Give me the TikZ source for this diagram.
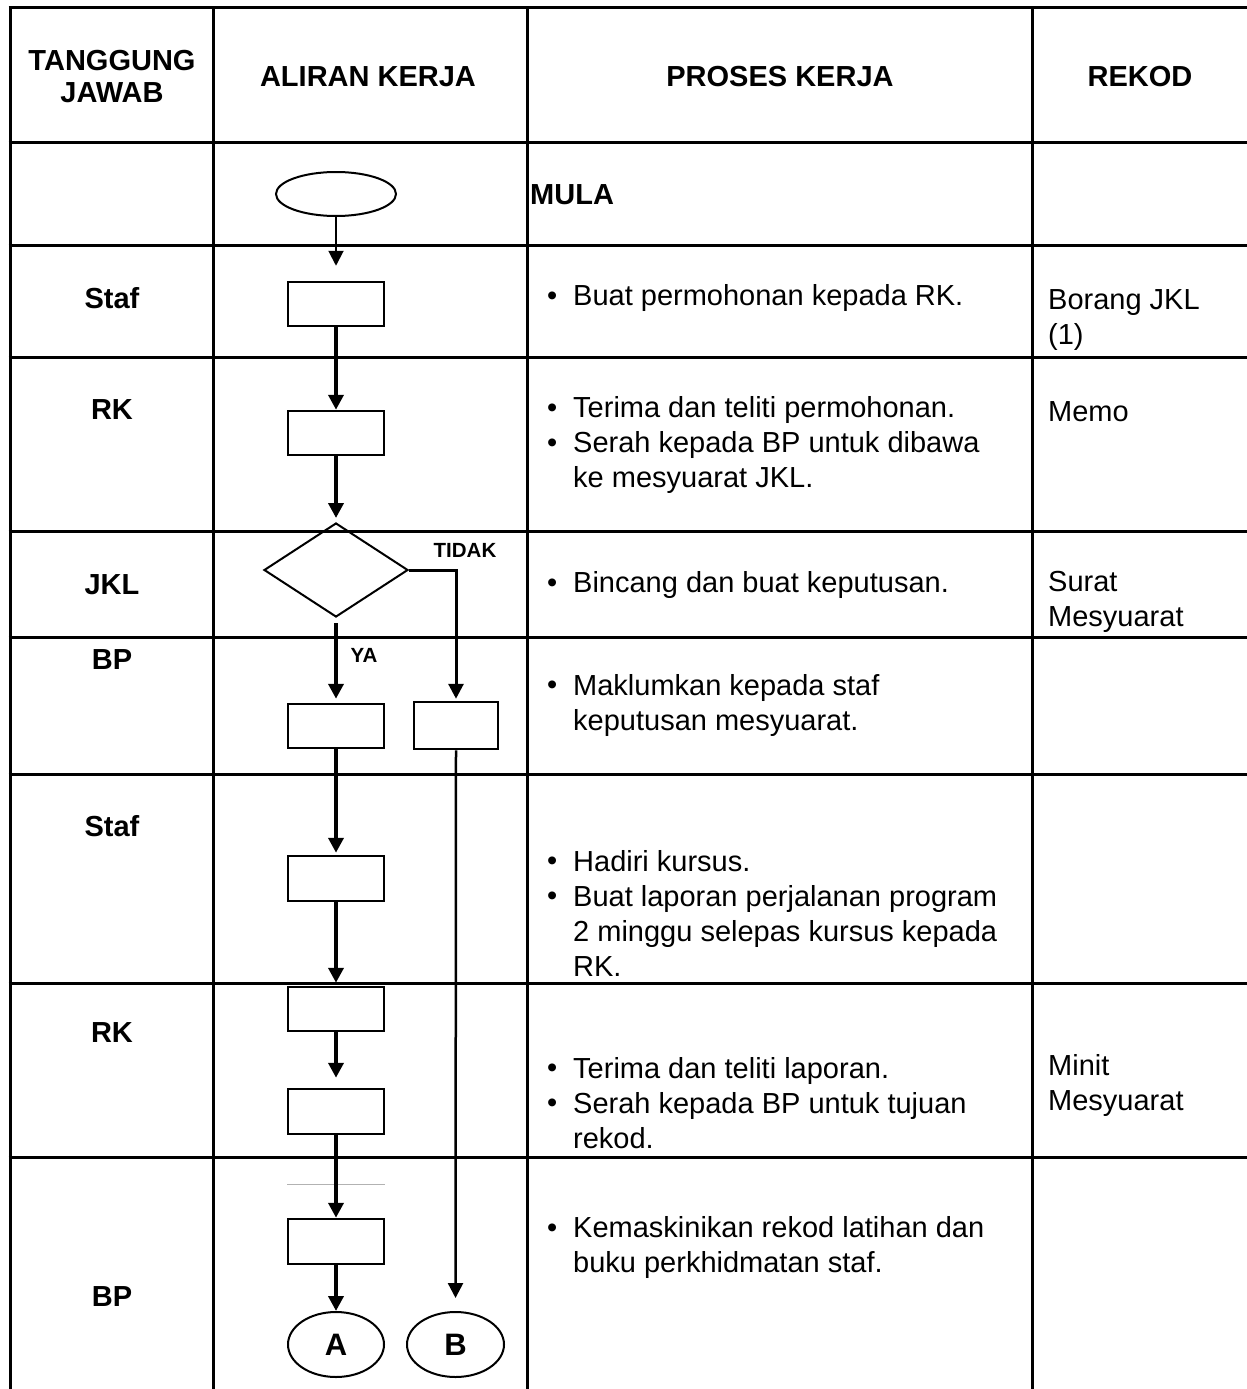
\documentclass[tikz,border=0pt]{standalone}
\usepackage{fontspec}
\setmainfont{Liberation Sans}
\usetikzlibrary{shapes.geometric,arrows.meta}
\newcommand\myblt{\makebox[26pt][l]{\raisebox{0.5pt}{•}}}
\newcommand\myind{\hspace*{26pt}}
\begin{document}
\begin{tikzpicture}[x=1pt,y=-1pt,
  tbl/.style={line width=3pt},
  box/.style={draw, line width=2.5pt, rectangle, minimum width=96pt, minimum height=44pt, inner sep=0pt},
  term/.style={draw, line width=2pt, ellipse, inner sep=0pt},
  arr/.style={line width=4pt, -{Triangle[width=15pt,length=15pt]}},
  arrthin/.style={line width=2pt, -{Triangle[width=15pt,length=15pt]}},
  arrmid/.style={line width=3pt, -{Triangle[width=15pt,length=15pt]}},
  txt/.style={inner sep=0pt, font=\fontsize{29}{35}\selectfont, align=left, anchor=west},
  hdr/.style={inner sep=0pt, font=\fontsize{29}{32}\selectfont\bfseries, align=center},
  lbl/.style={inner sep=0pt, font=\fontsize{29}{35}\selectfont\bfseries},
  small/.style={inner sep=0pt, font=\fontsize{20.5}{24}\selectfont\bfseries}
]
\useasboundingbox (0,0) rectangle (1247,1389);
\fill[white] (0,0) rectangle (1247,1389);

% table grid
\foreach \yy in {8,142,245,357,531,637,774,983,1157}
  \draw[tbl] (8.5,\yy) -- (1247,\yy);
\foreach \xx in {10,213,527,1032}
  \draw[tbl] (\xx,6.5) -- (\xx,1389);

% header
\node[hdr] (h1) at (112,77) {TANGGUNG\\JAWAB};
\node[hdr] (h2) at (368,77) {ALIRAN KERJA};
\node[hdr] (h3) at (780,77) {PROSES KERJA};
\node[hdr] (h4) at (1140,77) {REKOD};

% responsibility labels
\node[lbl] (r1) at (112,298) {Staf};
\node[lbl] (r2) at (112,410) {RK};
\node[lbl] (r3) at (112,585) {JKL};
\node[lbl] (r4) at (112,660) {BP};
\node[lbl] (r5) at (112,826) {Staf};
\node[lbl] (r6) at (112,1033) {RK};
\node[lbl] (r7) at (112,1297) {BP};

% process text
\node[lbl, anchor=west] (mula) at (530,195) {MULA};
\node[txt] (p1) at (547,298) {\myblt Buat permohonan kepada RK.};
\node[txt] (p2) at (547,445) {\myblt Terima dan teliti permohonan.\\\myblt Serah kepada BP untuk dibawa\\\myind ke mesyuarat JKL.};
\node[txt] (p3) at (547,585) {\myblt Bincang dan buat keputusan.};
\node[txt] (p4) at (547,705) {\myblt Maklumkan kepada staf\\\myind keputusan mesyuarat.};
\node[txt] (p5) at (547,913) {\myblt Hadiri kursus.\\\myblt Buat laporan perjalanan program\\\myind 2 minggu selepas kursus kepada\\\myind RK.};
\node[txt] (p6) at (547,1103) {\myblt Terima dan teliti laporan.\\\myblt Serah kepada BP untuk tujuan\\\myind rekod.};
\node[txt] (p7) at (547,1247.5) {\myblt Kemaskinikan rekod latihan dan\\\myind buku perkhidmatan staf.};

% records
\node[txt] (k1) at (1048,320) {Borang JKL\\(1)};
\node[txt] (k2) at (1048,412) {Memo};
\node[txt] (k3) at (1048,601.5) {Surat\\Mesyuarat};
\node[txt] (k4) at (1048,1085.5) {Minit\\Mesyuarat};

% flow chart
\node[term, minimum width=120pt, minimum height=44pt] (start) at (336,194) {};
\node[box] (b1) at (336,304) {};
\node[box] (b2) at (336,433) {};
\node[draw, line width=2pt, diamond, minimum width=144pt, minimum height=94pt, inner sep=0pt] (dec) at (336,570) {};
\node[box] (b3) at (336,726) {};
\node[box, minimum width=84pt, minimum height=47pt] (b4) at (456,725.5) {};
\node[box, minimum height=45pt] (b5) at (336,878.5) {};
\node[box] (b6) at (336,1009) {};
\node[box, minimum height=45pt] (b7) at (336,1111.5) {};
\node[box, minimum height=45pt] (b8) at (336,1241.5) {};
\node[term, minimum width=96pt, minimum height=65pt, font=\fontsize{31}{35}\selectfont\bfseries] (A) at (336,1344.5) {A};
\node[term, minimum width=97pt, minimum height=65pt, font=\fontsize{31}{35}\selectfont\bfseries] (B) at (455.5,1344.5) {B};

\node[small] (tidak) at (465,550) {TIDAK};
\node[small] (ya) at (364,655) {YA};

% stray thin grey line
\draw[gray!60, line width=1pt] (287,1184) -- (385,1184);

% connectors
\draw[arrthin, shorten >=15pt] (start.south) -- (b1.north);
\draw[arr] (b1.south) -- (b2.north);
\draw[arr, shorten >=4pt] (b2.south) -- (dec.north);
\draw[arr, shorten <=5pt, shorten >=4pt] (dec.south) -- (b3.north);
\draw[arrmid, shorten >=2pt] (dec.east) -| (b4.north);
\draw[arr, shorten >=2pt] (b3.south) -- (b5.north);
\draw[arr, shorten >=3pt] (b5.south) -- (b6.north);
\draw[arr, shorten >=10pt] (b6.south) -- (b7.north);
\draw[arr] (b7.south) -- (b8.north);
\draw[arr] (b8.south) -- (A.north);
\draw[arrthin, line width=2.5pt, shorten >=13pt] (b4.south) -- (B.north);
\end{tikzpicture}
\end{document}
